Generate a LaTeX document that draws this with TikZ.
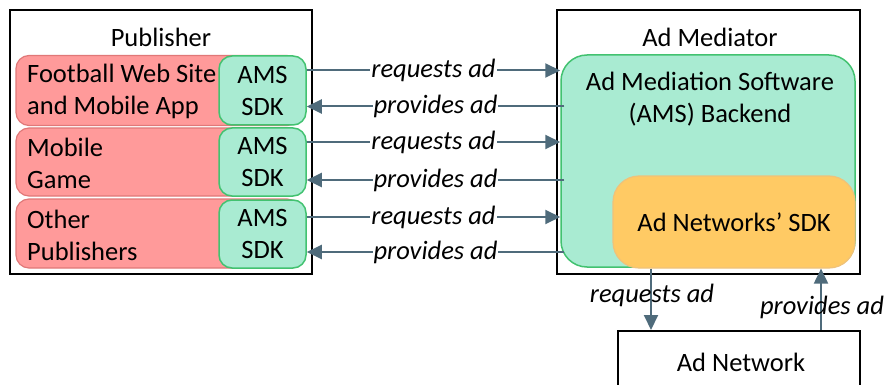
\documentclass[tikz,border=0pt]{standalone}
\usepackage{fontspec}
\setmainfont{Carlito}
\usetikzlibrary{arrows.meta}
\definecolor{pubred}{HTML}{FF9A9A}
\definecolor{pubredline}{HTML}{E07878}
\definecolor{amsgreen}{HTML}{A9EBD2}
\definecolor{amsgreenline}{HTML}{42C270}
\definecolor{sdkorange}{HTML}{FFCA64}
\definecolor{sdkorangeline}{HTML}{EFC27A}
\definecolor{flow}{HTML}{4F6B7B}
\tikzset{
  txt/.style={font=\fontsize{26.5}{32}\selectfont},
  frame/.style={draw=black, line width=2pt, rectangle, inner sep=0pt},
  app/.style={fill=pubred, draw=pubredline, line width=1.2pt, rounded corners=13pt, inner sep=0pt},
  sdkbox/.style={fill=amsgreen, draw=amsgreenline, line width=1.5pt, rounded corners=13pt, inner sep=0pt, txt, align=center},
  backend/.style={fill=amsgreen, draw=amsgreenline, line width=1.5pt, rounded corners=26pt, inner sep=0pt},
  netsdk/.style={fill=sdkorange, draw=sdkorangeline, line width=1.2pt, rounded corners=26pt, inner sep=0pt, txt},
  arr/.style={draw=flow, line width=2pt, -{Triangle[length=15pt,width=14pt]}},
  lbl/.style={font=\fontsize{26.5}{32}\selectfont\itshape, inner sep=1pt},
}
\begin{document}
\begin{tikzpicture}[x=1pt,y=-1pt]
\useasboundingbox (0,0) rectangle (886,385);
\clip (0,0) rectangle (886,385);

% publisher side
\node[frame, minimum width=302pt, minimum height=264pt] (pub) at (161,142) {};
\node[txt] (pubtitle) at (161,37) {Publisher};

\node[app, minimum width=284pt, minimum height=70pt] (app1) at (158,90.5) {};
\node[app, minimum width=284pt, minimum height=68pt] (app2) at (158,162) {};
\node[app, minimum width=284pt, minimum height=69pt] (app3) at (158,233.5) {};
\node[txt, align=left, anchor=west, inner sep=0pt] (app1t) at (27,91) {Football Web Site\\and Mobile App};
\node[txt, align=left, anchor=west, inner sep=0pt] (app2t) at (27,163) {Mobile\\Game};
\node[txt, align=left, anchor=west, inner sep=0pt] (app3t) at (27,235) {Other\\Publishers};

\node[sdkbox, minimum width=87pt, minimum height=69pt] (sdk1) at (262.5,90.5) {AMS\\SDK};
\node[sdkbox, minimum width=87pt, minimum height=68pt] (sdk2) at (262.5,162) {AMS\\SDK};
\node[sdkbox, minimum width=87pt, minimum height=68pt] (sdk3) at (262.5,234) {AMS\\SDK};

% mediator side
\node[frame, minimum width=303pt, minimum height=264pt] (med) at (708.5,142) {};
\node[txt] (medtitle) at (710,37) {Ad Mediator};
\node[backend, minimum width=294pt, minimum height=212pt] (back) at (708,161) {};
\node[txt, align=center] (backt) at (710,99) {Ad Mediation Software\\(AMS) Backend};
\node[netsdk, minimum width=242pt, minimum height=92pt] (nsdk) at (734,222) {Ad Networks’ SDK};

% ad network
\node[frame, minimum width=242pt, minimum height=70pt] (net) at (739,366) {};
\node[txt] (nett) at (741,362) {Ad Network};

% publisher <-> mediator traffic (yshift is in page space: positive is up)
\foreach \i/\up/\dn in {1/20/-16, 2/20/-18, 3/17/-18} {
  \draw[arr] ([yshift=\up pt]sdk\i.east) -- ([yshift=\up pt]sdk\i.east -| back.west)
     node[lbl, midway, fill=white] {requests ad};
  \draw[arr] ([yshift=\dn pt, xshift=4pt]sdk\i.east -| back.west) -- ([yshift=\dn pt]sdk\i.east)
     node[lbl, midway, fill=white] {provides ad};
}

% mediator <-> ad network traffic
\coordinate (rq) at (651,0);
\coordinate (pv) at (821,0);
\draw[arr] (rq |- nsdk.south) -- (rq |- net.north);
\node[lbl] (rql) at (652,295) {requests ad};
\draw[arr] (pv |- net.north) -- (pv |- nsdk.south);
\node[lbl] (pvl) at (822,307) {provides ad};
\end{tikzpicture}
\end{document}
